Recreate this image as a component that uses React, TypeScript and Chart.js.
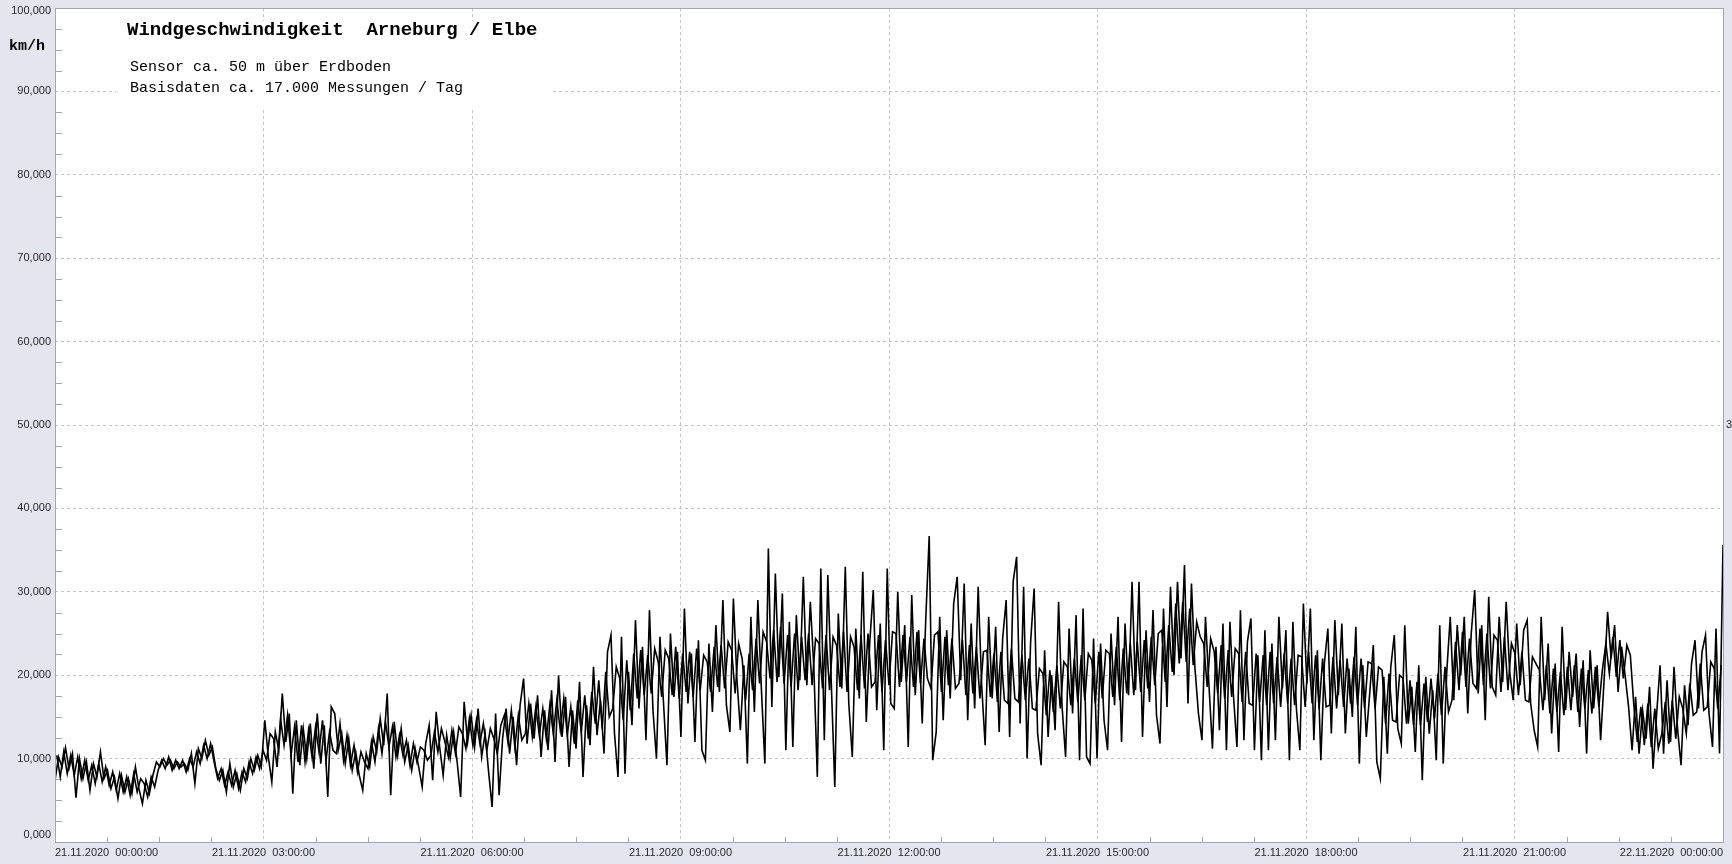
import React, { useEffect, useRef } from "react";
import { Chart, registerables } from "chart.js";

Chart.register(...registerables);

// ---- Data (km/h) ----
// Samples "A": 478 readings, 00:00 → 24:00 on 21.11.2020, evenly spaced.
const speed00to04 = [
  7.4, 10.2, 9.0, 11.3, 8.8, 10.6, 5.3, 10.0, 7.6, 9.6,
  6.2, 9.4, 7.8, 10.8, 7.6, 8.6, 6.4, 7.8, 5.2, 8.0,
  6.0, 7.6, 5.8, 9.0, 6.4, 4.6, 7.4, 5.8, 8.0, 9.6,
  9.0, 10.0, 9.2, 9.8, 8.8, 9.6, 9.0, 9.4, 8.6, 10.6,
  7.0, 11.2, 10.0, 12.2, 10.4, 11.4, 8.8, 7.4, 8.6, 6.0,
  9.4, 6.6, 8.2, 6.2, 8.8, 7.6, 10.0, 8.6, 10.4, 9.0,
  14.6, 10.2, 7.2, 13.2, 11.0, 17.8, 12.0, 15.4, 5.8, 14.6,
  9.2, 13.6, 10.0, 14.2, 8.8, 15.4, 9.4, 14.0, 5.4, 16.2,
];
const speed04to08 = [
  15.4, 11.0, 13.0, 9.4, 12.4, 8.6, 10.8, 8.0, 6.2, 10.6,
  9.0, 12.6, 10.8, 14.8, 11.6, 17.8, 5.6, 14.4, 10.4, 13.6,
  9.6, 11.6, 8.6, 11.2, 9.0, 6.6, 11.8, 14.0, 7.4, 15.6,
  11.4, 8.0, 12.8, 10.0, 13.2, 9.6, 5.4, 16.8, 12.0, 15.2,
  11.4, 16.0, 10.2, 13.0, 8.4, 4.2, 15.4, 5.6, 12.4, 16.0,
  10.6, 15.0, 9.2, 16.4, 19.6, 11.8, 16.6, 12.4, 17.6, 10.2,
  15.8, 11.0, 18.2, 9.6, 20.0, 12.6, 17.4, 9.0, 15.8, 11.2,
  19.2, 7.8, 16.4, 11.6, 21.0, 12.8, 17.0, 10.6, 22.8, 24.8,
];
const speed08to12 = [
  13.0, 7.8, 24.6, 8.2, 20.4, 14.0, 26.6, 16.0, 23.4, 12.2,
  27.8, 15.8, 10.0, 24.6, 16.8, 9.2, 25.0, 17.4, 22.8, 12.6,
  28.0, 16.6, 22.6, 12.0, 24.2, 11.0, 9.8, 23.8, 15.6, 26.0,
  18.0, 29.0, 16.4, 13.2, 29.2, 19.6, 13.4, 21.2, 9.4, 27.0,
  15.6, 29.0, 18.4, 9.4, 35.2, 16.2, 32.2, 19.8, 29.8, 11.0,
  26.4, 11.4, 27.2, 19.4, 31.8, 18.8, 28.8, 21.0, 7.8, 32.8,
  12.2, 32.0, 19.0, 6.6, 27.4, 18.4, 33.0, 16.6, 10.2, 25.6,
  17.2, 32.4, 14.4, 24.0, 30.2, 15.8, 26.2, 11.0, 32.8, 16.6,
];
const speed12to16 = [
  16.0, 30.0, 19.2, 26.0, 11.4, 29.6, 17.6, 25.4, 14.2, 26.6,
  36.7, 9.8, 13.2, 27.0, 14.6, 25.4, 17.2, 28.6, 31.8, 19.4,
  31.0, 14.6, 26.2, 16.0, 30.6, 18.8, 11.6, 27.0, 17.2, 25.8,
  13.2, 24.4, 29.0, 12.6, 31.2, 34.2, 14.2, 30.6, 10.0, 24.0,
  30.4, 13.0, 9.2, 23.0, 12.6, 20.0, 13.4, 28.8, 16.2, 10.2,
  25.6, 15.4, 27.2, 9.8, 28.0, 10.2, 9.4, 24.4, 10.0, 23.8,
  14.6, 11.0, 25.0, 16.4, 27.0, 12.0, 26.2, 17.6, 31.2, 18.2,
  31.2, 12.6, 25.4, 16.8, 27.8, 15.2, 11.8, 28.0, 16.2, 30.6,
];
const speed16to20 = [
  20.0, 31.2, 22.0, 33.2, 16.6, 31.0, 20.8, 15.4, 12.2, 27.0,
  18.8, 11.2, 23.4, 13.4, 26.2, 11.0, 26.4, 17.6, 11.4, 27.8,
  12.2, 24.0, 26.8, 11.0, 22.4, 9.8, 25.4, 11.0, 23.8, 12.2,
  27.0, 18.4, 25.4, 9.8, 26.4, 16.0, 11.0, 28.6, 19.0, 28.0,
  12.2, 23.0, 9.8, 21.4, 25.6, 13.0, 26.6, 17.6, 26.2, 13.0,
  20.8, 15.0, 25.8, 9.4, 21.2, 12.6, 18.0, 23.6, 9.6, 7.6,
  19.8, 10.6, 21.0, 24.8, 13.6, 11.8, 26.0, 14.2, 18.6, 10.8,
  21.2, 7.4, 19.8, 13.0, 18.2, 9.8, 26.0, 9.4, 20.4, 27.0,
];
const speed20to24 = [
  17.0, 26.0, 20.0, 27.0, 15.4, 25.0, 30.2, 17.8, 26.0, 14.6,
  29.4, 18.6, 17.6, 27.0, 19.2, 28.8, 20.4, 17.0, 26.2, 18.8,
  25.4, 26.6, 16.6, 13.4, 11.4, 27.0, 17.0, 23.8, 13.0, 21.4,
  10.8, 25.8, 15.8, 22.8, 17.4, 22.6, 13.8, 21.8, 10.6, 23.0,
  16.0, 21.2, 12.2, 19.4, 27.6, 22.0, 26.0, 18.0, 23.4, 20.0,
  16.2, 11.0, 17.4, 10.6, 15.8, 12.4, 18.6, 8.8, 15.2, 21.2,
  10.6, 19.4, 12.0, 21.0, 13.6, 9.2, 18.8, 14.0, 21.4, 24.2,
  16.0, 22.8, 24.8, 15.4, 11.4, 25.6, 10.6, 35.6,
];

// Samples "B": the readings half a step after each "A" sample (477 values).
const speedB00to04 = [
  10.4, 7.8, 10.8, 8.2, 10.4, 8.0, 10.2, 7.6, 9.8, 7.4,
  9.2, 7.0, 9.4, 7.2, 9.0, 6.8, 8.4, 6.2, 8.2, 6.0,
  7.8, 5.6, 8.2, 6.0, 7.6, 7.0, 5.4, 7.8, 6.6, 8.6,
  9.8, 8.8, 10.2, 8.6, 9.8, 8.8, 9.8, 8.4, 10.0, 9.0,
  10.8, 9.4, 11.6, 10.0, 11.8, 9.6, 7.6, 8.8, 6.8, 8.4,
  6.8, 8.6, 6.4, 8.4, 7.2, 9.6, 8.2, 10.2, 8.8, 11.0,
  9.8, 13.0, 12.4, 9.0, 14.8, 11.6, 15.2, 10.4, 13.8, 9.6,
  14.0, 9.6, 13.4, 10.2, 13.8, 10.8, 14.6, 9.8, 13.2, 11.0,
];
const speedB04to08 = [
  10.6, 14.2, 9.8, 12.8, 9.2, 11.6, 8.4, 10.8, 9.6, 8.8,
  12.0, 9.6, 13.6, 10.6, 14.4, 11.4, 13.8, 10.2, 12.8, 10.4,
  12.2, 9.2, 11.8, 9.6, 11.4, 11.0, 9.8, 10.4, 13.2, 10.8,
  13.6, 12.0, 10.2, 13.4, 10.6, 13.8, 13.0, 11.2, 14.8, 11.6,
  14.6, 11.8, 14.2, 11.0, 13.6, 12.4, 10.6, 14.0, 15.2, 12.0,
  15.8, 11.4, 15.2, 12.2, 13.0, 16.6, 12.6, 16.2, 12.8, 16.0,
  12.4, 16.4, 13.0, 17.0, 13.4, 17.2, 12.8, 16.2, 11.8, 17.0,
  13.2, 17.6, 12.4, 18.0, 14.2, 19.4, 13.6, 20.4, 15.0, 16.0,
];
const speedB08to12 = [
  21.0, 19.6, 14.6, 21.8, 15.8, 22.6, 17.2, 23.0, 17.6, 22.4,
  17.8, 23.2, 21.6, 17.4, 23.0, 22.0, 17.6, 23.4, 17.2, 22.6,
  18.0, 22.8, 17.4, 23.2, 18.2, 22.4, 21.6, 18.0, 23.4, 18.6,
  23.6, 18.4, 24.0, 23.0, 17.8, 23.8, 22.0, 17.0, 22.6, 18.2,
  24.4, 19.0, 25.2, 24.0, 19.6, 25.4, 19.2, 25.8, 19.0, 24.8,
  18.6, 25.0, 18.2, 24.6, 19.4, 25.0, 18.8, 24.4, 23.8, 18.4,
  24.8, 18.2, 24.6, 23.6, 18.6, 25.2, 18.0, 24.6, 23.4, 18.2,
  24.8, 18.4, 25.0, 18.6, 19.2, 24.8, 18.0, 24.2, 18.8, 25.2,
];
const speedB12to16 = [
  25.0, 18.6, 24.8, 19.2, 24.6, 18.6, 25.2, 19.0, 24.4, 19.6,
  18.4, 24.8, 25.2, 18.0, 24.6, 18.8, 24.4, 18.4, 19.0, 24.2,
  17.6, 23.6, 17.8, 23.4, 17.2, 22.8, 23.0, 17.4, 22.6, 16.8,
  22.8, 17.0, 16.6, 23.2, 17.2, 16.8, 22.4, 17.0, 22.0, 16.0,
  15.8, 20.8, 20.2, 15.2, 20.6, 15.6, 21.2, 16.0, 21.6, 21.0,
  16.4, 22.0, 16.8, 22.4, 17.0, 22.6, 21.8, 16.6, 22.8, 17.2,
  23.0, 22.6, 17.4, 23.4, 17.0, 23.2, 17.8, 23.8, 17.6, 24.0,
  18.0, 24.2, 18.4, 24.6, 18.8, 25.0, 25.4, 19.2, 26.0, 20.4,
];
const speedB16to20 = [
  28.6, 21.4, 28.8, 21.6, 28.0, 21.2, 26.4, 24.6, 23.8, 18.6,
  24.4, 22.8, 17.8, 23.6, 17.2, 23.0, 17.4, 23.2, 22.6, 16.8,
  22.8, 16.6, 16.4, 22.6, 16.8, 22.4, 16.4, 22.8, 16.6, 22.2,
  16.2, 22.6, 16.6, 22.0, 16.4, 22.4, 22.2, 16.2, 22.8, 16.6,
  22.4, 16.0, 22.0, 16.2, 16.4, 22.2, 16.0, 21.8, 16.2, 22.0,
  16.6, 22.2, 16.4, 22.0, 16.0, 21.6, 21.4, 16.0, 21.0, 20.6,
  14.2, 20.2, 14.6, 14.4, 20.0, 19.6, 14.2, 19.4, 14.0, 19.2,
  14.0, 19.0, 14.4, 19.6, 14.8, 20.2, 15.2, 21.0, 15.6, 17.0,
];
const speedB20to24 = [
  24.0, 18.2, 25.2, 18.6, 24.4, 19.0, 18.4, 25.6, 18.8, 25.0,
  18.4, 24.8, 24.2, 18.0, 24.6, 18.2, 23.8, 22.6, 17.6, 22.8,
  17.0, 16.8, 22.2, 21.4, 20.6, 15.8, 21.2, 15.4, 20.8, 15.6,
  20.4, 15.2, 21.0, 15.8, 21.2, 15.6, 20.8, 16.0, 20.6, 15.4,
  21.0, 16.2, 20.6, 23.8, 20.2, 24.6, 19.8, 24.2, 19.6, 23.6,
  22.4, 16.4, 12.0, 16.2, 11.6, 16.6, 11.4, 16.0, 11.2, 13.0,
  16.8, 11.8, 17.0, 12.4, 17.4, 16.0, 13.0, 19.0, 15.2, 15.6,
  21.4, 15.8, 16.2, 21.6, 20.8, 16.0, 21.2,
];

const xTickLabels = [
  "21.11.2020  00:00:00",
  "21.11.2020  03:00:00",
  "21.11.2020  06:00:00",
  "21.11.2020  09:00:00",
  "21.11.2020  12:00:00",
  "21.11.2020  15:00:00",
  "21.11.2020  18:00:00",
  "21.11.2020  21:00:00",
  "22.11.2020  00:00:00",
];
const yTickLabels = [
  "0,000", "10,000", "20,000", "30,000", "40,000", "50,000",
  "60,000", "70,000", "80,000", "90,000", "100,000",
];

const titleText = "Windgeschwindigkeit  Arneburg / Elbe";
const subtitleLines = ["Sensor ca. 50 m über Erdboden", "Basisdaten ca. 17.000 Messungen / Tag"];
const unitText = "km/h";

const FONT_SANS = "'Liberation Sans', Arial, sans-serif";
const FONT_MONO = "'Liberation Mono', 'Courier New', monospace";
const PAGE_BG = "#e3e6ef";
const AXIS_GRAY = "#a3a6ad";
const GRID_GRAY = "#c4c4c4";

const HOURS = 24;
const samplesA = [
  ...speed00to04, ...speed04to08, ...speed08to12,
  ...speed12to16, ...speed16to20, ...speed20to24,
];
const samplesB = [
  ...speedB00to04, ...speedB04to08, ...speedB08to12,
  ...speedB12to16, ...speedB16to20, ...speedB20to24,
];
const STEP = HOURS / (samplesA.length - 1);
const pointsA = samplesA.map((v, i) => ({ x: i * STEP, y: v }));
const pointsB = samplesB.map((v, i) => ({ x: (i + 0.5) * STEP, y: v }));

const decorPlugin = {
  id: "decor",
  beforeDraw(chart: any) {
    const { ctx, chartArea: a } = chart;
    ctx.save();
    ctx.fillStyle = PAGE_BG;
    ctx.fillRect(0, 0, chart.width, chart.height);
    ctx.fillStyle = "#ffffff";
    ctx.fillRect(a.left, a.top, a.right - a.left, a.bottom - a.top);
    ctx.restore();
  },
  beforeDatasetsDraw(chart: any) {
    const { ctx, chartArea: a, scales } = chart;
    const x = scales.x;
    const y = scales.y;
    ctx.save();
    // white box behind the title block (hides grid lines)
    ctx.fillStyle = "#ffffff";
    ctx.fillRect(116, 21, 436, 89);

    // minor ticks
    ctx.strokeStyle = AXIS_GRAY;
    ctx.lineWidth = 1;
    ctx.beginPath();
    for (let v = 2.5; v < 100; v += 2.5) {
      if (Math.abs(v % 10) < 0.01) continue;
      const py = Math.round(y.getPixelForValue(v)) + 0.5;
      ctx.moveTo(a.left, py);
      ctx.lineTo(a.left + 7, py);
    }
    for (let h = 0.75; h < HOURS; h += 0.75) {
      if (Math.abs(h % 3) < 0.01) continue;
      const px = Math.round(x.getPixelForValue(h)) + 0.5;
      ctx.moveTo(px, a.bottom);
      ctx.lineTo(px, a.bottom - 5);
    }
    ctx.stroke();

    // title texts
    ctx.fillStyle = "#000000";
    ctx.textBaseline = "middle";
    ctx.textAlign = "left";
    ctx.font = `bold 19px ${FONT_MONO}`;
    ctx.fillText(titleText, 127, 30);
    ctx.font = `15px ${FONT_MONO}`;
    ctx.fillText(subtitleLines[0], 130, 67);
    ctx.fillText(subtitleLines[1], 130, 88);
    ctx.restore();
  },
  afterDraw(chart: any) {
    const { ctx, chartArea: a, scales } = chart;
    const y = scales.y;
    ctx.save();
    // plot border
    ctx.strokeStyle = AXIS_GRAY;
    ctx.lineWidth = 1;
    ctx.strokeRect(Math.round(a.left) + 0.5, Math.round(a.top) + 0.5, Math.round(a.right - a.left), Math.round(a.bottom - a.top));
    // y labels
    ctx.fillStyle = "#2a2a2a";
    ctx.font = `11px ${FONT_SANS}`;
    ctx.textAlign = "right";
    ctx.textBaseline = "middle";
    yTickLabels.forEach((lab, i) => {
      let py = y.getPixelForValue(i * 10);
      py = Math.max(a.top + 3, Math.min(a.bottom - 7, py));
      ctx.fillText(lab, a.left - 4, py);
    });
    // unit
    ctx.fillStyle = "#000000";
    ctx.textAlign = "left";
    ctx.font = `bold 15px ${FONT_MONO}`;
    ctx.fillText(unitText, 9, 46);
    // clipped right-axis label
    ctx.font = `11px ${FONT_SANS}`;
    ctx.fillStyle = "#2a2a2a";
    ctx.fillText("3", a.right + 3, y.getPixelForValue(50));
    ctx.restore();
  },
};

export default function App() {
  const canvasRef = useRef<HTMLCanvasElement | null>(null);

  useEffect(() => {
    const canvas = canvasRef.current;
    if (!canvas) return;
    const gridColor = (max: number) => (c: any) =>
      c.tick && (c.tick.value === 0 || c.tick.value === max) ? "rgba(0,0,0,0)" : GRID_GRAY;
    const lineStyle = {
      borderColor: "#000000",
      borderWidth: 1.6,
      pointRadius: 0,
      tension: 0,
      fill: false,
    };
    const chart = new Chart(canvas, {
      type: "line",
      data: {
        datasets: [
          { data: pointsA, ...lineStyle },
          { data: pointsB, ...lineStyle },
        ],
      },
      options: {
        animation: false,
        responsive: false,
        parsing: false,
        normalized: true,
        events: [],
        layout: { padding: { left: 0, right: 9, top: 8, bottom: 0 } },
        plugins: { legend: { display: false }, tooltip: { enabled: false }, title: { display: false } },
        scales: {
          x: {
            type: "linear",
            min: 0,
            max: HOURS,
            afterFit(scale: any) {
              scale.height = 22;
            },
            border: { display: false, dash: [3, 3] },
            grid: { color: gridColor(HOURS), lineWidth: 1, drawTicks: false },
            ticks: {
              stepSize: 3,
              autoSkip: false,
              maxRotation: 0,
              align: "inner",
              padding: 4,
              color: "#2a2a2a",
              font: { family: FONT_SANS, size: 11 },
              callback: (v: any) => xTickLabels[Math.round(Number(v) / 3)] ?? "",
            },
          },
          y: {
            type: "linear",
            min: 0,
            max: 100,
            afterFit(scale: any) {
              scale.width = 55;
            },
            border: { display: false, dash: [3, 3] },
            grid: { color: gridColor(100), lineWidth: 1, drawTicks: false },
            ticks: { stepSize: 10, display: false },
          },
        },
      } as any,
      plugins: [decorPlugin],
    });
    return () => chart.destroy();
  }, []);

  return (
    <div style={{ position: "fixed", left: 0, top: 0, width: 1732, height: 864, background: PAGE_BG }}>
      <canvas ref={canvasRef} width={1732} height={864} style={{ display: "block" }} />
    </div>
  );
}
